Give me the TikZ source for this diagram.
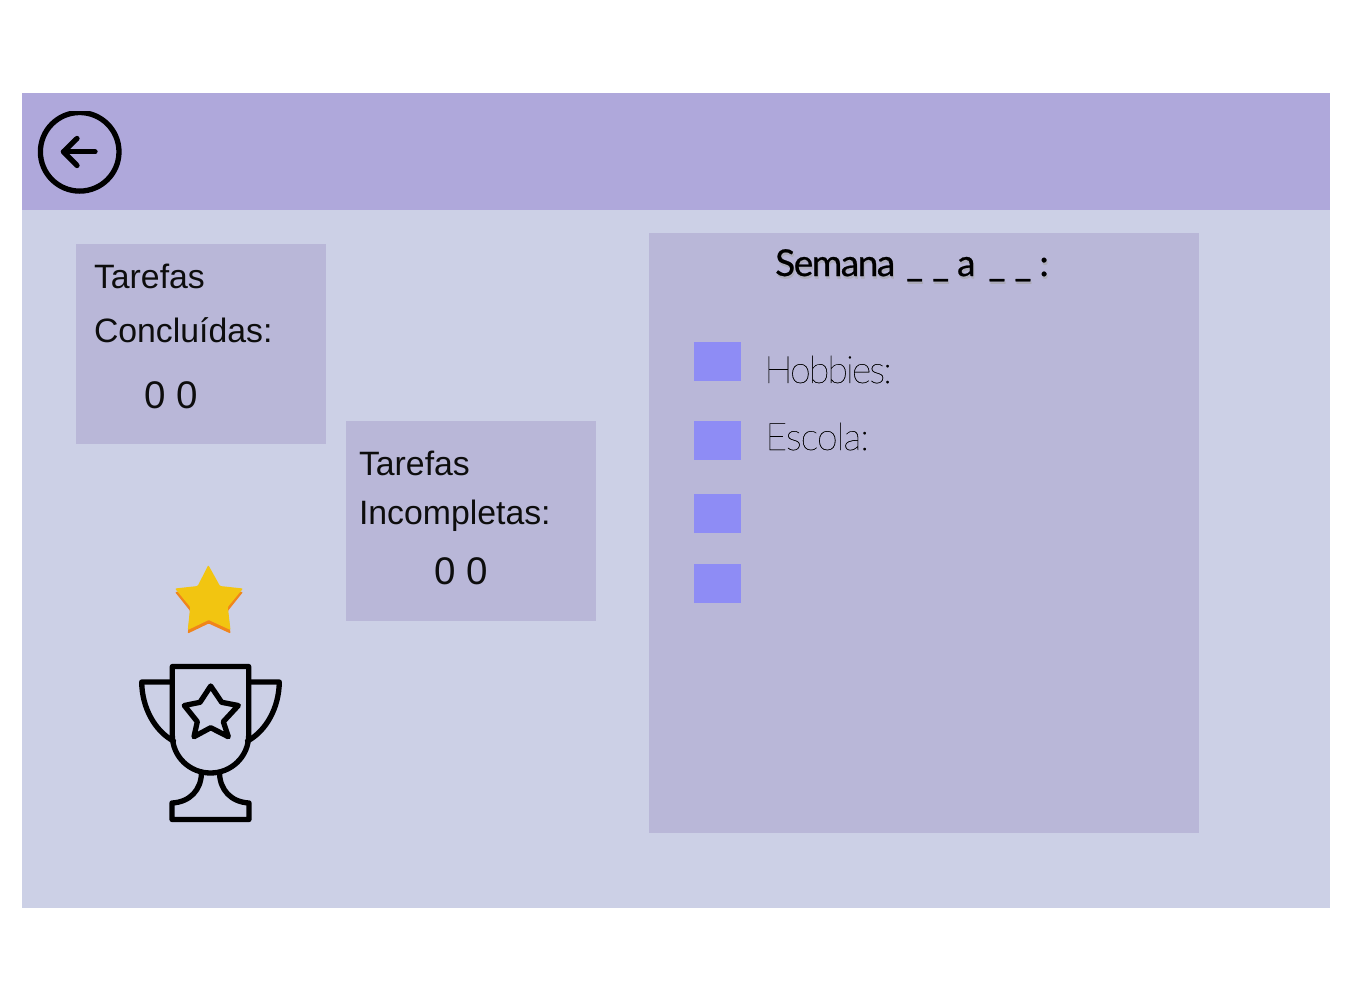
\documentclass[tikz,border=0pt]{standalone}
\usepackage{fontspec}
\setmainfont{Liberation Sans}
\newfontfamily\thinfont[LetterSpace=-5.5,FakeBold=0.35]{Lato Thin}
\newfontfamily\thinfontb[LetterSpace=-3,FakeBold=0.35]{Lato Thin}
\newfontfamily\headfont[FakeBold=0.6,LetterSpace=-4]{Lato}
\definecolor{bgc}{HTML}{CCD0E6}
\definecolor{hdc}{HTML}{AFA8DB}
\definecolor{pnc}{HTML}{B9B7D8}
\definecolor{sqc}{HTML}{8E8CF5}
\definecolor{stc}{HTML}{F2C511}
\definecolor{stb}{HTML}{F0851B}
\newcommand{\headline}{Semana\hspace{3pt} \_ \hspace{1pt}\_ a\hspace{5pt} \_ \hspace{1pt}\_ :}
\tikzset{
 area/.style={fill=#1,draw=none},
 label/.style={anchor=base west,inner sep=0pt,outer sep=0pt,font=\fontsize{33.8}{34}\selectfont,text=black!95},
 digits/.style={label,font=\fontsize{38.5}{38}\selectfont},
 thintext/.style={anchor=base west,inner sep=0pt,font=\fontsize{38}{38}\selectfont,text=black},
 headtext/.style={anchor=base west,inner sep=0pt,font=\headfont\fontsize{37}{37}\selectfont},
 icon/.style={draw=black,line width=5.3pt,line join=round,line cap=round},
 sq/.style={area=sqc,minimum width=47pt,minimum height=39pt,inner sep=0pt,anchor=north west}
}
\begin{document}
\begin{tikzpicture}[x=1pt,y=-1pt]
\useasboundingbox (0,0) rectangle (1352,1002);
\fill[white] (0,0) rectangle (1352,1002);
\fill[area=bgc] (22,93) rectangle (1330,908);
\fill[area=hdc] (22,93) rectangle (1330,210);
\fill[area=pnc] (76,244) rectangle (326,444);
\fill[area=pnc] (346,421) rectangle (596,621);
\fill[area=pnc] (649,233) rectangle (1199,833);
% back icon
\begin{scope}
\clip (30,111) rectangle (130,193);
\draw[icon] (79.7,151.8) circle (39.3);
\end{scope}
\draw[icon] (95,151.8) -- (63.5,151.8);
\draw[icon] (77,138.5) -- (63.5,151.8) -- (77,165.5);
% text
\node[label] (t1) at (94,288) {Tarefas};
\node[label] (c1) at (94,342) {Concluídas:};
\node[digits] (n1) at (144.5,408) {0 0};
\node[label] (t2) at (359,475) {Tarefas};
\node[label] (c2) at (359,524) {Incompletas:};
\node[digits] (n2) at (434.5,584) {0 0};
\node[headtext,text=black!35,opacity=.55] (hs) at (776,278.5) {\headline};
\node[headtext] (h) at (775,276) {\headline};
\node[sq] (s1) at (694,342) {};
\node[sq] (s2) at (694,421) {};
\node[sq] (s3) at (694,494) {};
\node[sq] (s4) at (694,564) {};
\node[thintext,font=\thinfont\fontsize{38}{38}\selectfont] (ho) at (764,383) {Hobbies:};
\node[thintext,font=\thinfontb\fontsize{38}{38}\selectfont] (es) at (765,450) {Escola:};
% gold star
\fill[stb,rounded corners=1pt] (208.3,569) -- (220,590) -- (243,592) -- (227.8,611) -- (230.5,633.5) -- (208.7,623.5) -- (187.8,633.5) -- (190.2,611) -- (175,592) -- (197.7,590) -- cycle;
\fill[stc,rounded corners=1pt] (208.3,565) -- (220,586) -- (243,588.5) -- (227.8,607) -- (230.5,630) -- (208.7,620) -- (187.8,630) -- (190.2,607) -- (175,588.5) -- (197.7,586) -- cycle;
% trophy
\draw[icon] (172.3,735) -- (172.3,666.5) -- (248.7,666.5) -- (248.7,735) .. controls (248.7,757) and (231,773) .. (210.5,773) .. controls (190,773) and (172.3,757) .. (172.3,735);
\draw[icon] (172.3,682) -- (141.7,682) .. controls (142,708) and (155,731) .. (173.5,741);
\draw[icon] (248.7,682) -- (279.3,682) .. controls (279,708) and (266,731) .. (247.5,741);
\draw[icon] (201.5,773) .. controls (201,790) and (190,802) .. (172,803) -- (172,819.5) -- (249,819.5) -- (249,803) .. controls (231,802) and (220,790) .. (219.5,773);
\draw[icon] (210.7,686) -- (221.7,702.3) -- (238.3,705.5) -- (223.3,721.7) -- (228.3,736.7) -- (210.7,727.7) -- (194,736.7) -- (197.3,721.7) -- (184.3,705.5) -- (200,702.3) -- cycle;
\end{tikzpicture}
\end{document}
